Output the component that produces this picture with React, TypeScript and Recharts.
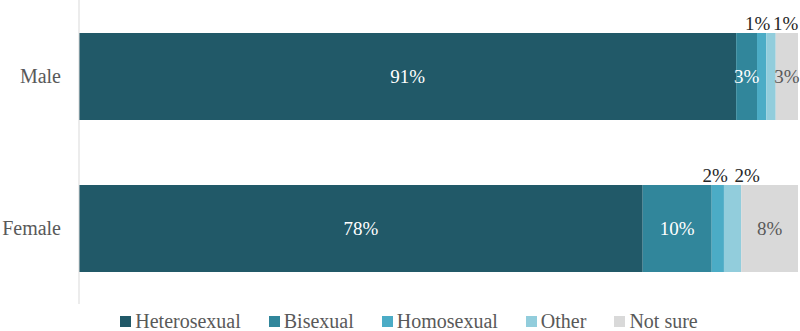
import { BarChart, Bar, XAxis, YAxis, Legend, LabelList } from 'recharts';

const categories = ['Male', 'Female'];
const heterosexual = [91.4, 78.4];
const bisexual = [2.9, 9.6];
const homosexual = [1.3, 1.7];
const other = [1.3, 2.4];
const notSure = [3.1, 7.9];

const series = [
  { key: 'heterosexual', name: 'Heterosexual', color: '#215968' },
  { key: 'bisexual', name: 'Bisexual', color: '#31869B' },
  { key: 'homosexual', name: 'Homosexual', color: '#4BACC6' },
  { key: 'other', name: 'Other', color: '#92CDDC' },
  { key: 'notSure', name: 'Not sure', color: '#D9D9D9' },
];

const data = categories.map((name, i) => ({
  name,
  heterosexual: heterosexual[i],
  bisexual: bisexual[i],
  homosexual: homosexual[i],
  other: other[i],
  notSure: notSure[i],
}));

const FONT = "'Liberation Serif', 'Times New Roman', serif";
const fmt = (v: any) => `${Math.round(Number(v))}%`;

const insideLabel = (fill: string) => (props: any) => {
  const { x, y, width, height, value } = props;
  return (
    <text
      x={x + width / 2}
      y={y + height / 2}
      fill={fill}
      textAnchor="middle"
      dominantBaseline="central"
      fontSize={19}
      fontFamily={FONT}
    >
      {fmt(value)}
    </text>
  );
};

// small segments get their labels above the bar, pushed apart
const homoLabel = (props: any) => {
  const { x, y, width, value } = props;
  return (
    <text x={x + width + 4} y={y - 3} fill="#262626" textAnchor="end" fontSize={19} fontFamily={FONT}>
      {fmt(value)}
    </text>
  );
};

const otherLabel = (props: any) => {
  const { x, y, width, value } = props;
  return (
    <text x={x + width / 2 + 2} y={y - 3} fill="#262626" textAnchor="start" fontSize={19} fontFamily={FONT}>
      {fmt(value)}
    </text>
  );
};

const renderLegend = () => (
  <div
    style={{
      display: 'flex',
      justifyContent: 'center',
      alignItems: 'center',
      height: 27,
      paddingLeft: 20,
      position: 'relative',
      top: 4,
      fontFamily: FONT,
      fontSize: 20,
      color: '#595959',
    }}
  >
    {series.map((s, i) => (
      <span key={s.key} style={{ display: 'flex', alignItems: 'center', marginRight: i < series.length - 1 ? 28 : 0 }}>
        <span style={{ width: 11, height: 11, background: s.color, marginRight: 4, display: 'inline-block' }} />
        {s.name}
      </span>
    ))}
  </div>
);

export default function App() {
  return (
    <div style={{ position: 'absolute', left: 0, top: 0, background: '#fff' }}>
      <BarChart
        width={800}
        height={331}
        data={data}
        layout="vertical"
        margin={{ top: 0, right: 2, bottom: 0, left: 0 }}
      >
        <XAxis type="number" domain={[0, 100]} hide />
        <YAxis
          type="category"
          dataKey="name"
          width={79}
          tickLine={false}
          tickSize={0}
          tickMargin={18}
          axisLine={{ stroke: '#D9D9D9' }}
          tick={{ fill: '#595959', fontSize: 20, fontFamily: FONT }}
        />
        <Legend verticalAlign="bottom" content={renderLegend} />
        <Bar dataKey="heterosexual" name="Heterosexual" stackId="a" fill="#215968" barSize={87} isAnimationActive={false}>
          <LabelList dataKey="heterosexual" content={insideLabel('#FFFFFF')} />
        </Bar>
        <Bar dataKey="bisexual" name="Bisexual" stackId="a" fill="#31869B" barSize={87} isAnimationActive={false}>
          <LabelList dataKey="bisexual" content={insideLabel('#FFFFFF')} />
        </Bar>
        <Bar dataKey="homosexual" name="Homosexual" stackId="a" fill="#4BACC6" barSize={87} isAnimationActive={false}>
          <LabelList dataKey="homosexual" content={homoLabel} />
        </Bar>
        <Bar dataKey="other" name="Other" stackId="a" fill="#92CDDC" barSize={87} isAnimationActive={false}>
          <LabelList dataKey="other" content={otherLabel} />
        </Bar>
        <Bar dataKey="notSure" name="Not sure" stackId="a" fill="#D9D9D9" barSize={87} isAnimationActive={false}>
          <LabelList dataKey="notSure" content={insideLabel('#595959')} />
        </Bar>
      </BarChart>
    </div>
  );
}
